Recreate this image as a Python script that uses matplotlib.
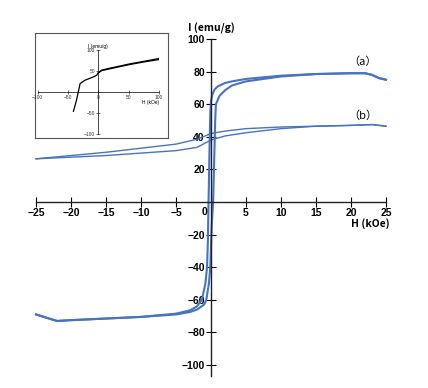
import matplotlib.pyplot as plt
import numpy as np

plt.rcParams['font.family'] = ['Liberation Sans', 'DejaVu Sans']

# curve (a) descending branch (left) and ascending branch (right)
a_down_H = [25, 24, 23, 22, 20, 15, 10, 5, 3, 2, 1, 0.5, 0.2, 0, -0.1, -0.2, -0.35, -0.45, -0.57, -0.8, -1.3, -2, -3, -5, -10, -15, -20, -22, -25]
a_down_I = [75, 76, 78, 79, 79, 78.5, 77.5, 75.5, 74, 73, 71, 69, 66, 62, 55, 35, 0, -25, -40, -50, -60, -64, -66.5, -68.5, -70.5, -71.5, -72.5, -73, -69]
a_up_H = [-25, -22, -20, -15, -10, -5, -3, -2, -1, -0.67, -0.3, -0.1, 0.1, 0.3, 0.45, 0.6, 0.7, 1.2, 2, 2.5, 3, 5, 10, 15, 20, 22, 23, 24, 25]
a_up_I = [-69, -73, -72.5, -71.5, -70.5, -69, -67.5, -66, -63, -60, -50, -40, -15, 0, 25, 50, 60, 65, 68.5, 70, 71.5, 74, 77, 78.5, 79, 79, 78, 76, 75]

# curve (b)
b_down_H = [25, 23, 20, 15, 10, 5, 2, 0, -2, -5, -10, -15, -20, -25]
b_down_I = [46.5, 47.5, 47, 46.5, 46, 45, 43.5, 42, 38.5, 35.5, 33, 30.5, 28.5, 26.5]
b_up_H = [-25, -20, -15, -10, -5, -2, 0, 2, 5, 10, 15, 20, 23, 25]
b_up_I = [26.5, 27.5, 28.5, 30, 31.5, 33.5, 38, 40.5, 42.5, 45, 46.5, 47, 47.5, 46.5]

# inset curve
ins_H = [-41, -36, -33, -30, -22, -8, -2.6, 0, 5.5, 20, 52, 75, 101]
ins_I = [-46, -20, 0, 20, 28, 36, 40, 45.6, 52, 57, 67, 73, 80]
ins2_H = [0, 5.5, 20, 52, 75, 101]
ins2_I = [45.6, 51, 55.5, 65.5, 71.5, 77.5]

xticks = [-25, -20, -15, -10, -5, 5, 10, 15, 20, 25]
yticks = [-100, -80, -60, -40, -20, 20, 40, 60, 80, 100]

blue = '#4673c2'
jp = ['Noto Sans CJK JP', 'DejaVu Sans']
fig = plt.figure(figsize=(4.28, 3.88), dpi=100)
ax = fig.add_axes([36/428, 0.0299, 350/428, 0.8696])
ax.set_xlim(-25, 25)
ax.set_ylim(-107, 100)
ax.plot(a_down_H, a_down_I, color=blue, lw=1.5, clip_on=False)
ax.plot(a_up_H, a_up_I, color=blue, lw=1.5, clip_on=False)
ax.plot(b_down_H, b_down_I, color=blue, lw=1.0, clip_on=False)
ax.plot(b_up_H, b_up_I, color=blue, lw=1.0, clip_on=False)

for s in ['top', 'right']:
    ax.spines[s].set_visible(False)
ax.spines['left'].set_position(('data', 0))
ax.spines['bottom'].set_position(('data', 0))
for s in ['left', 'bottom']:
    ax.spines[s].set_color('#222222')
    ax.spines[s].set_linewidth(1.0)
ax.patch.set_alpha(0)
ax.set_xticks(xticks)
ax.set_yticks(yticks)
ax.tick_params(direction='inout', length=7, width=0.8, labelsize=7.5, pad=1)
for lab in ax.get_xticklabels() + ax.get_yticklabels():
    lab.set_fontweight('bold')
ax.text(-0.9, -3, '0', ha='center', va='top', fontsize=7.5, fontweight='bold')
ax.text(0, 103, 'I (emu/g)', ha='center', va='bottom', fontsize=7.5, family=jp, fontweight='bold')
ax.text(25.5, -10, 'H (kOe)', ha='right', va='top', fontsize=7.5, family=jp, fontweight='bold')
ax.text(21.7, 86, '（a）', ha='center', va='center', fontsize=8, family=jp)
ax.text(21.7, 53, '（b）', ha='center', va='center', fontsize=8, family=jp)

# inset frame
fr = fig.add_axes([35/428, (388-138)/388, 133/428, 105/388])
fr.set_xticks([])
fr.set_yticks([])
for s in fr.spines.values():
    s.set_color('#555555')
    s.set_linewidth(0.8)

ins = fig.add_axes([37.6/428, (388-134)/388, 121.4/428, 84/388])
ins.patch.set_alpha(0)
ins.set_xlim(-100, 100)
ins.set_ylim(-100, 100)
ins.plot(ins_H, ins_I, color='black', lw=0.9)
ins.plot(ins2_H, ins2_I, color='black', lw=0.9)
for s in ['top', 'right']:
    ins.spines[s].set_visible(False)
ins.spines['left'].set_position(('data', 0))
ins.spines['bottom'].set_position(('data', 0))
for s in ['left', 'bottom']:
    ins.spines[s].set_linewidth(0.5)
ins.set_xticks([-100, -50, 0, 50, 100])
ins.set_yticks([-100, -50, 50, 100])
ins.tick_params(direction='inout', length=3, width=0.5, labelsize=3.5, pad=1, colors='#333333')
ins.text(0, 103, 'I (emu/g)', ha='center', va='bottom', fontsize=3.5)
ins.text(100, -20, 'H (kOe)', ha='right', va='top', fontsize=3.5)

fig.savefig('out.png', dpi=100)
